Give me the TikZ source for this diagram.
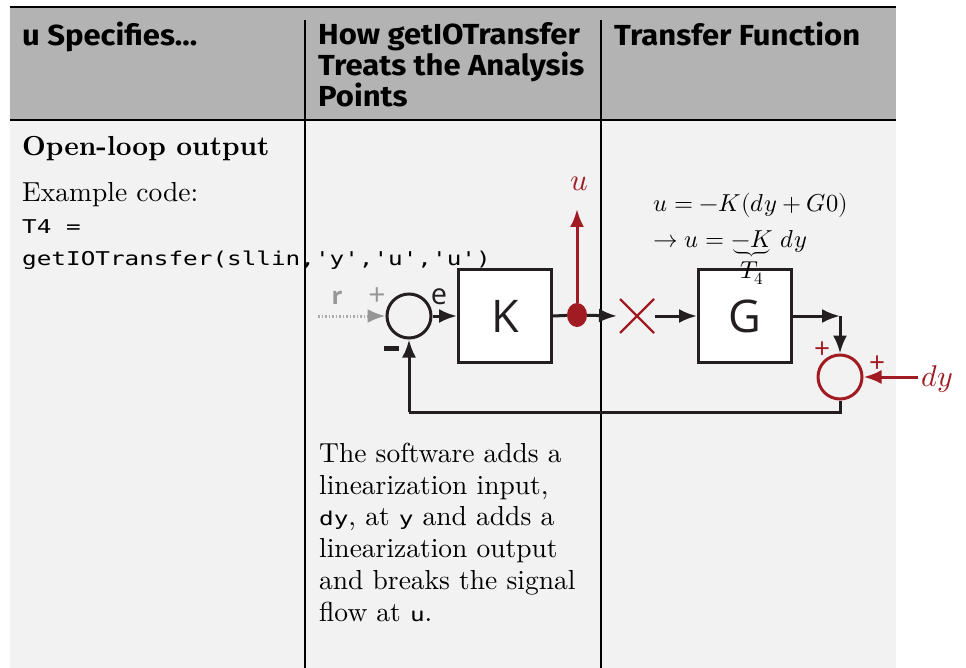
\documentclass[tikz,border=0pt]{standalone}
\usepackage{amsmath}
\usepackage{fontspec}
\usepackage{unicode-math}
\setmainfont{lmroman10-regular}[Extension=.otf, BoldFont=lmroman10-bold, ItalicFont=lmroman10-italic]
\setmathfont{latinmodern-math.otf}
\newfontfamily\hdrfont{Fira Sans}[FakeStretch=1.07]
\newfontfamily\blkfont{Open Sans}
\newfontfamily\codefont{DejaVu Sans Mono}[FakeStretch=1.28]
\usetikzlibrary{arrows.meta,shapes.geometric}
\definecolor{hdrgray}{RGB}{179,179,179}
\definecolor{bodygray}{RGB}{242,242,242}
\definecolor{dred}{RGB}{160,27,34}
\definecolor{ink}{RGB}{35,31,32}
\definecolor{rgray}{RGB}{150,150,150}
\tikzset{
  tabline/.style={line width=2.2pt, black},
  hdr/.style={anchor=north west, inner sep=0pt, align=left, font=\hdrfont\bfseries\fontsize{29}{31}\selectfont},
  serif/.style={anchor=north west, inner sep=0pt, align=left, font=\fontsize{27.5}{31.7}\selectfont},
  blk/.style={draw=ink, line width=3pt, fill=white, minimum width=93pt, minimum height=93pt, inner sep=0pt, font=\blkfont\fontsize{45}{45}\selectfont, text=ink},
  sumc/.style={circle, draw=ink, line width=3pt, minimum size=44pt, inner sep=0pt},
  wire/.style={draw=ink, line width=3pt},
  tip/.style={-{Latex[length=18pt,width=14pt]}},
  arr/.style={wire, tip},
  rarr/.style={draw=dred, line width=3pt, tip},
  sgn/.style={font=\blkfont\fontsize{30}{30}\selectfont, inner sep=0pt},
}
\newcommand{\cw}[1]{{\codefont\fontsize{19}{31.7}\selectfont #1}}
\begin{document}
\begin{tikzpicture}[x=1pt,y=-1pt]
\useasboundingbox (0,0) rectangle (966,668);
% backgrounds
\fill[hdrgray] (10,7) rectangle (896,120);
\fill[bodygray] (10,121) rectangle (896,668);
\draw[tabline] (10,7) -- (896,7);
\draw[tabline] (10,120) -- (896,120);
\draw[tabline] (305,20) -- (305,668);
\draw[tabline] (601,20) -- (601,668);
% headers
\node[hdr] (h1) at (22,22) {u Specifies...};
\node[hdr] (h2) at (318,22) {How getIOTransfer\\Treats the Analysis\\Points};
\node[hdr] (h3) at (614,22) {Transfer Function};
% left column
\node[serif, font=\bfseries\fontsize{27.5}{31.7}\selectfont] (t1) at (22,136) {Open-loop output};
\node[serif] (t2) at (22,182) {Example code:};
\node[anchor=north west, inner sep=0pt, align=left, font=\codefont\fontsize{19}{32}\selectfont] (code) at (22,219) {T4 =\\getIOTransfer(sllin,'y','u','u')};
% middle text
\node[serif] (desc) at (319,443) {The software adds a\\linearization input,\\\cw{dy}, at \cw{y} and adds a\\linearization output\\and breaks the signal\\flow at \cw{u}.};
% diagram
\node[sumc] (s1) at (409,316) {};
\node[blk] (K) at (505,316) {K};
\node[blk] (G) at (745,316) {G};
\node[sumc, draw=dred] (s2) at (840,377) {};
\node[ellipse, fill=dred, minimum width=20pt, minimum height=24pt, inner sep=0pt] (dot) at (577,315) {};
\coordinate (rin) at (318,316);
\coordinate (uout) at (577,209);
\coordinate (xmark) at (637,316);
\coordinate (dytail) at (918,377);
\coordinate (gcorner) at (840,316);
\coordinate (dotend) at (617,316);
\coordinate (xend) at (655,316);
\coordinate (fb1) at (840,412);
\coordinate (fb2) at (409,412);
\draw[draw=rgray!80, line width=3pt, dash pattern=on 1.5pt off 2pt] (rin) -- ([xshift=-14pt]s1.west);
\draw[draw=rgray, line width=3pt, tip] ([xshift=-16pt]s1.west) -- (s1.west);
\node[sgn, text=rgray, font=\blkfont\bfseries\fontsize{24}{24}\selectfont] (rlab) at (337,298) {r};
\node[sgn, text=rgray] (p1) at (377,297) {+};
\node[inner sep=0pt] (m1) at (391,348) {\color{ink}\rule{15pt}{5pt}};
\node[sgn, text=ink, font=\blkfont\fontsize{29}{29}\selectfont] (elab) at (439,297) {e};
\draw[arr] (s1.east) -- (K.west);
\draw[wire] (K.east) -- (dot);
\draw[rarr] (dot) -- (uout);
\node[text=dred, font=\fontsize{31}{31}\selectfont, inner sep=0pt] (ulab) at (579,184) {$u$};
\draw[arr] (dot) -- (dotend);
\draw[draw=dred, line width=2.4pt] ([shift={(-17,-17)}]xmark) -- ([shift={(17,17)}]xmark)
  ([shift={(-17,17)}]xmark) -- ([shift={(17,-17)}]xmark);
\draw[arr] (xend) -- (G.west);
\draw[arr] (G.east) -- (gcorner);
\draw[arr] (gcorner) -- (s2.north);
\draw[rarr] (dytail) -- (s2.east);
\node[text=dred, font=\fontsize{30}{30}\selectfont, inner sep=0pt, anchor=base west] (dylab) at (921,386) {$dy$};
\node[sgn, text=dred, font=\blkfont\fontsize{28}{28}\selectfont] (p2) at (822,350) {+};
\node[sgn, text=dred, font=\blkfont\fontsize{28}{28}\selectfont] (p3) at (877,364) {+};
\draw[wire] (s2.south) -- (fb1) -- (fb2);
\draw[arr] (fb2) -- (s1.south);
% equations
\node[anchor=base west, inner sep=0pt, font=\fontsize{24.5}{24.5}\selectfont] (eq1) at (653,212) {$u = {-}K(dy + G0)$};
\node[anchor=base west, inner sep=0pt, font=\fontsize{24.5}{24.5}\selectfont] (eq2) at (653,248) {$\rightarrow u = \underbrace{{-}K}_{\displaystyle T_{4}}\,dy$};
\end{tikzpicture}
\end{document}
